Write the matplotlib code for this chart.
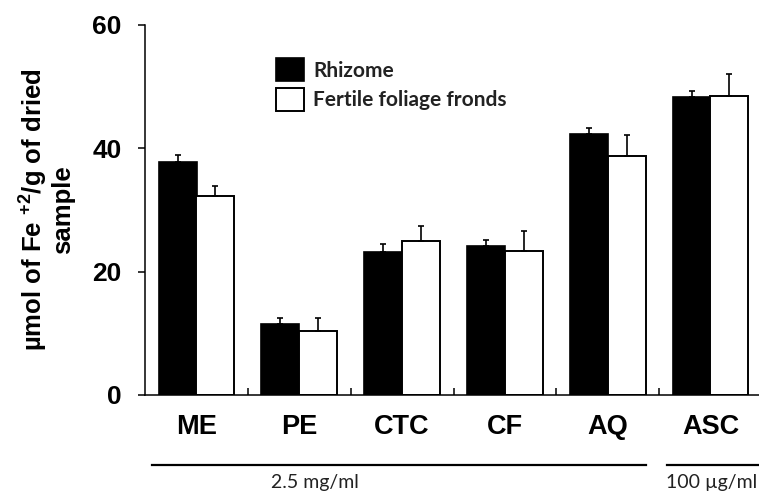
import matplotlib.pyplot as plt
import numpy as np
from matplotlib import transforms

plt.rcParams['font.family'] = ['Liberation Sans', 'DejaVu Sans']
plt.rcParams['mathtext.fontset'] = 'custom'
plt.rcParams['mathtext.rm'] = 'Liberation Sans:bold'
plt.rcParams['mathtext.default'] = 'rm'

# data
categories = ['ME', 'PE', 'CTC', 'CF', 'AQ', 'ASC']
rhizome = [37.8, 11.5, 23.2, 24.2, 42.4, 48.4]
rhizome_err = [1.1, 1.0, 1.3, 1.0, 0.9, 0.9]
fronds = [32.3, 10.4, 25.0, 23.3, 38.8, 48.5]
fronds_err = [1.6, 2.1, 2.4, 3.3, 3.3, 3.5]
yticks = [0, 20, 40, 60]

fig = plt.figure(figsize=(7.59, 4.92), dpi=100)
ax = fig.add_axes([145 / 759, 97 / 492, 617 / 759, 370 / 492])

x = np.arange(len(categories))
w = 0.37
ax.bar(x - 0.183, rhizome, w, color='black', edgecolor='black', linewidth=1.2,
       label='Rhizome', zorder=2)
ax.bar(x + 0.183, fronds, w, color='white', edgecolor='black', linewidth=1.4,
       label='Fertile foliage fronds', zorder=2)
ax.errorbar(x - 0.183, rhizome, yerr=[np.zeros(len(x)), rhizome_err], fmt='none',
            ecolor='black', elinewidth=1.2, capsize=2, capthick=1.2, zorder=3)
ax.errorbar(x + 0.183, fronds, yerr=[np.zeros(len(x)), fronds_err], fmt='none',
            ecolor='black', elinewidth=1.2, capsize=2, capthick=1.2, zorder=3)

ax.set_xlim(-0.5, 5.5)
ax.set_ylim(0, 60)
ax.set_yticks(yticks)
ax.set_yticklabels([str(v) for v in yticks], fontsize=19, fontweight='bold')
ax.set_xticks(x)
ax.set_xticklabels(categories, fontsize=19.5, fontweight='bold')
ax.set_xticks(x[:-1] + 0.5, minor=True)
ax.tick_params(axis='x', which='major', length=0, pad=14)
ax.tick_params(axis='x', which='minor', direction='in', length=5, width=1.1)
ax.tick_params(axis='y', direction='out', length=5, width=1.1, pad=12)
for s in ['top', 'right']:
    ax.spines[s].set_visible(False)
for s in ['left', 'bottom']:
    ax.spines[s].set_linewidth(1.1)

ax.set_ylabel('µmol of Fe $^{+2}$/g of dried\nsample', fontsize=18.5,
              fontweight='bold', labelpad=12, linespacing=1.05)

leg = ax.legend(loc='upper left', bbox_to_anchor=(0.188, 0.95), frameon=False,
                prop={'family': 'Lato', 'weight': 'bold', 'size': 15},
                handlelength=1.35, handleheight=1.35, handletextpad=0.45,
                labelspacing=0.3, borderpad=0.2)
for t in leg.get_texts():
    t.set_color('#222222')

# concentration brackets below the axis
trans = transforms.blended_transform_factory(ax.transData, ax.transAxes)
ax.plot([-0.43, 4.37], [-0.189, -0.189], color='black', lw=1.6,
        transform=trans, clip_on=False)
ax.plot([4.58, 5.6], [-0.189, -0.189], color='black', lw=1.6,
        transform=trans, clip_on=False)
ax.text(1.15, -0.26, '2.5 mg/ml', transform=trans, ha='center', va='bottom',
        fontsize=14, family='Lato', color='#222222')
ax.text(4.57, -0.26, '100 µg/ml', transform=trans, ha='left', va='bottom',
        fontsize=14, family='Lato', color='#222222')

fig.savefig('out.png', dpi=100)
